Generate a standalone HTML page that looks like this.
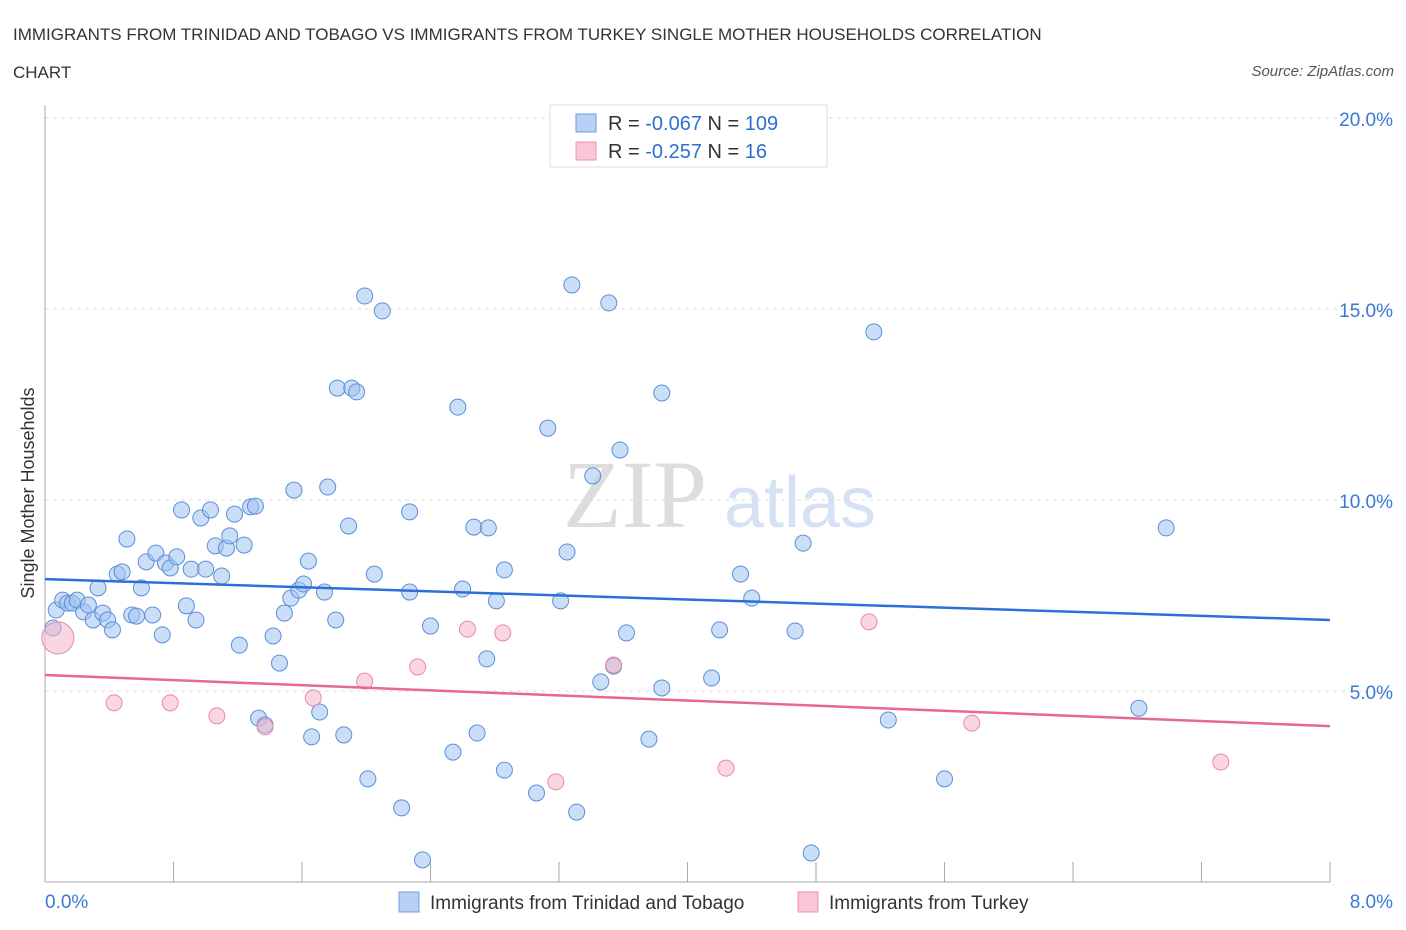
<!DOCTYPE html>
<html><head><meta charset="utf-8"><style>
body{margin:0;background:#fff;font-family:"Liberation Sans",sans-serif;}
svg{display:block}
</style></head><body>
<svg id="chart" width="1406" height="930">
<text x="13" y="40" font-size="17" fill="#333">IMMIGRANTS FROM TRINIDAD AND TOBAGO VS IMMIGRANTS FROM TURKEY SINGLE MOTHER HOUSEHOLDS CORRELATION</text>
<text x="13" y="78" font-size="17" fill="#333">CHART</text>
<text x="1394" y="76" font-size="15" fill="#555" font-style="italic" text-anchor="end">Source: ZipAtlas.com</text>
<text x="635" y="527" font-size="96" fill="#ddd" font-family="Liberation Serif" text-anchor="middle">ZIP</text>
<text x="800" y="527" font-size="72" fill="#d5e2f5" text-anchor="middle">atlas</text>
<g id="grid"></g><g id="axes"></g><g id="pts"></g><g id="lines"></g>
<text transform="translate(34,493) rotate(-90)" font-size="18" fill="#333" text-anchor="middle">Single Mother Households</text>
<g>
<rect x="550" y="105" width="277" height="62" fill="#fff" stroke="#ddd"/>
<rect x="576" y="114" width="20" height="18" fill="#b8d0f4" stroke="#6e9ce0"/>
<rect x="576" y="142" width="20" height="18" fill="#f8c6d4" stroke="#ea93b0"/>
<text x="608" y="130" font-size="20" fill="#333">R = <tspan fill="#2f6fd0">-0.067</tspan>   N = <tspan fill="#2f6fd0">109</tspan></text>
<text x="608" y="158" font-size="20" fill="#333">R = <tspan fill="#2f6fd0">-0.257</tspan>   N = <tspan fill="#2f6fd0">  16</tspan></text>
</g>
<g>
<rect x="399" y="892" width="20" height="20" fill="#b8d0f4" stroke="#6e9ce0"/>
<text x="430" y="909" font-size="19" fill="#333">Immigrants from Trinidad and Tobago</text>
<rect x="798" y="892" width="20" height="20" fill="#f8c6d4" stroke="#ea93b0"/>
<text x="829" y="909" font-size="19" fill="#333">Immigrants from Turkey</text>
</g>
</svg>
<script>
const blueX=[0.05,0.07,0.11,0.14,0.17,0.20,0.24,0.27,0.30,0.33,0.36,0.39,0.42,0.45,0.48,0.51,0.54,0.57,0.60,0.63,0.67,0.69,0.73,0.75,0.78,0.82,0.85,0.88,0.91,0.94,0.97,1.00,1.03,1.06,1.10,1.13,1.15,1.18,1.21,1.24,1.28,1.31,1.33,1.37,1.42,1.46,1.49,1.53,1.55,1.58,1.61,1.64,1.66,1.71,1.74,1.76,1.81,1.82,1.86,1.89,1.91,1.94,1.99,2.01,2.05,2.10,2.22,2.27,2.27,2.35,2.40,2.54,2.57,2.60,2.67,2.69,2.75,2.76,2.81,2.86,2.86,3.06,3.13,3.21,3.25,3.28,3.31,3.41,3.46,3.51,3.54,3.58,3.62,3.76,3.84,3.84,4.15,4.20,4.33,4.40,4.67,4.72,4.77,5.16,5.25,5.60,6.81,6.98];
const blueY=[6.65,7.12,7.38,7.30,7.30,7.38,7.07,7.25,6.86,7.70,7.04,6.86,6.60,8.06,8.12,8.98,6.99,6.96,7.70,8.38,6.99,8.61,6.47,8.35,8.22,8.51,9.74,7.23,8.19,6.86,9.53,8.19,9.74,8.80,8.01,8.74,9.06,9.63,6.20,8.82,9.82,9.84,4.29,4.11,6.44,5.73,7.04,7.43,10.26,7.64,7.80,8.40,3.80,4.45,7.59,10.34,6.86,12.93,3.85,9.32,12.93,12.83,15.34,2.70,8.06,14.95,1.94,7.59,9.69,0.58,6.70,3.40,12.43,7.67,9.29,3.90,5.84,9.27,7.36,2.93,8.17,2.33,11.88,7.36,8.64,15.63,1.83,10.63,5.24,15.16,5.65,11.31,6.52,3.74,5.08,12.80,5.34,6.60,8.06,7.43,6.57,8.87,0.76,14.40,4.24,2.70,4.55,9.27];
const pinkX=[0.08,0.43,0.78,1.07,1.37,1.67,1.99,2.32,2.63,2.85,3.18,3.54,4.24,5.13,5.77,7.32];
const pinkY=[6.39,4.69,4.69,4.35,4.06,4.82,5.26,5.63,6.62,6.52,2.62,5.68,2.98,6.81,4.16,3.14];
const pinkR=[16,8,8,8,8,8,8,8,8,8,8,8,8,8,8,8];
const blueTrend=[7.93,6.86];
const pinkTrend=[5.42,4.08];
const yTicks=[5,10,15,20];
const yTickLabels=["5.0%","10.0%","15.0%","20.0%"];
const NS="http://www.w3.org/2000/svg";
const X0=45,X1=1330,Y0=882,YS=38.2;
const sx=v=>X0+(v/8)*(X1-X0);
const sy=v=>Y0-v*YS;
function mk(p,t,a){const e=document.createElementNS(NS,t);for(const k in a)e.setAttribute(k,a[k]);document.getElementById(p).appendChild(e);return e;}
yTicks.forEach((t,i)=>{
 const g=mk('grid','line',{x1:X0,x2:1390,y1:sy(t),y2:sy(t),stroke:'#ddd','stroke-dasharray':'4,4'});
 
 
 const l=mk('axes','text',{x:1393,y:sy(t)+8,'font-size':19,fill:'#3a78d8','text-anchor':'end'});
 l.textContent=yTickLabels[i];
 
 
});
const ax=mk('axes','line',{x1:X0,x2:X0,y1:105,y2:Y0,stroke:'#aaa'});


const bx=mk('axes','line',{x1:X0,x2:X1,y1:Y0,y2:Y0,stroke:'#aaa'});


for(let i=0;i<=10;i++){const t=mk('axes','line',{x1:sx(i*0.8),x2:sx(i*0.8),y1:Y0,y2:862,stroke:'#aaa'});
 
 }
const xl0=mk('axes','text',{x:45,y:908,'font-size':19,fill:'#3a78d8'});xl0.textContent='0.0%';


const xl1=mk('axes','text',{x:1393,y:908,'font-size':19,fill:'#3a78d8','text-anchor':'end'});xl1.textContent='8.0%';


blueX.forEach((v,i)=>{const c=mk('pts','circle',{cx:sx(v),cy:sy(blueY[i]),r:8,fill:'rgba(160,195,240,0.55)',stroke:'#5b8fd8','stroke-width':1});
 
 });
pinkX.forEach((v,i)=>{const c=mk('pts','circle',{cx:sx(v),cy:sy(pinkY[i]),r:pinkR[i],fill:'rgba(244,180,200,0.55)',stroke:'#e88aa8','stroke-width':1});
 
 });
const bl=mk('lines','line',{x1:sx(0),x2:sx(8),y1:sy(blueTrend[0]),y2:sy(blueTrend[1]),stroke:'#2d6fd6','stroke-width':2.5});


const pl=mk('lines','line',{x1:sx(0),x2:sx(8),y1:sy(pinkTrend[0]),y2:sy(pinkTrend[1]),stroke:'#e46a93','stroke-width':2.5});


</script>
</body></html>
